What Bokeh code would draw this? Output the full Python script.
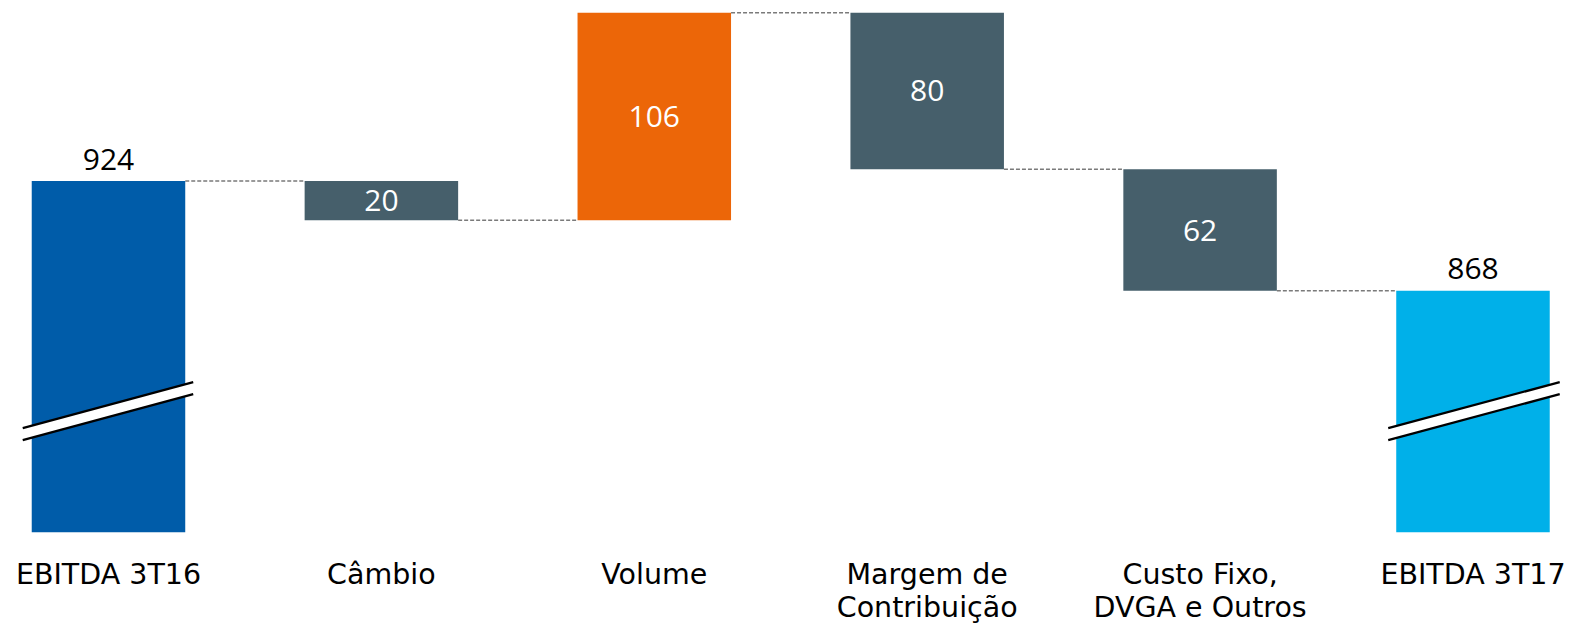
from bokeh.plotting import figure
from bokeh.models import Range1d
from bokeh.embed import file_html
from bokeh.resources import INLINE
from bokeh.core.properties import value

# ---- data ----
line1 = ["EBITDA 3T16", "Câmbio", "Volume", "Margem de", "Custo Fixo,", "EBITDA 3T17"]
line2 = ["", "", "", "Contribuição", "DVGA e Outros", ""]
steps = [924, -20, 106, -80, -62, 868]
is_total = [True, False, False, False, False, True]
value_labels = ["924", "20", "106", "80", "62", "868"]

# ---- styling / layout ----
colors = ["#005CA9", "#465F6B", "#EC6608", "#465F6B", "#465F6B", "#00B0E9"]
BASE = 744.8        # floor of the broken axis
W, H = 1573, 627
x_start, x_end = -0.3957, 5.3683
y_start, y_end = 696.13, 1016.19
BAR_W = 0.5625
ppx = W / (x_end - x_start)
ppy = H / (y_end - y_start)

xs = list(range(len(steps)))
tops, bottoms, levels = [], [], []
running = 0
for s, t in zip(steps, is_total):
    if t:
        bottoms.append(BASE)
        tops.append(s)
        running = s
    else:
        bottoms.append(min(running, running + s))
        tops.append(max(running, running + s))
        running += s
    levels.append(running)

p = figure(width=W, height=H, output_backend="svg", toolbar_location=None,
           x_range=Range1d(x_start, x_end), y_range=Range1d(y_start, y_end),
           min_border=0, outline_line_color=None)
p.axis.visible = False
p.grid.visible = False
p.background_fill_color = "white"
p.border_fill_color = "white"

# connectors
cx0 = [xs[i] + BAR_W / 2 for i in range(len(xs) - 1)]
cx1 = [xs[i + 1] - BAR_W / 2 for i in range(len(xs) - 1)]
cy = [levels[i] for i in range(len(xs) - 1)]
p.segment(x0=cx0, y0=cy, x1=cx1, y1=cy, line_color="#7A7A7A",
          line_width=1.5, line_dash="4 2")

# bars
p.vbar(x=xs, width=BAR_W, top=tops, bottom=bottoms, fill_color=colors,
       line_color=None)

# break marks on total bars
ext_l = {0: 9, 5: 8}
ext_r = {0: 8, 5: 10}
g = 6 / ppy
for i in xs:
    if not is_total[i]:
        continue
    xl = xs[i] - BAR_W / 2 - ext_l[i] / ppx
    xr = xs[i] + BAR_W / 2 + ext_r[i] / ppx
    yl = BASE + 98 / ppy
    yr = BASE + 144 / ppy
    p.patch([xl, xr, xr, xl], [yl + g, yr + g, yr - g, yl - g],
            fill_color="white", line_color=None)
    p.line([xl, xr], [yl + g, yr + g], line_color="black", line_width=2.2)
    p.line([xl, xr], [yl - g, yr - g], line_color="black", line_width=2.2)

# value labels
tx = [xs[i] for i in xs if is_total[i]]
ty = [tops[i] for i in xs if is_total[i]]
tt = [value_labels[i] for i in xs if is_total[i]]
p.text(x=tx, y=ty, text=tt, text_align="center", text_baseline="middle",
       y_offset=-22, text_color="black", text_font=value("Open Sans"),
       text_font_size="30px")
ix = [xs[i] for i in xs if not is_total[i]]
iy = [(tops[i] + bottoms[i]) / 2 for i in xs if not is_total[i]]
it = [value_labels[i] for i in xs if not is_total[i]]
p.text(x=ix, y=iy, text=it, text_align="center", text_baseline="middle",
       text_color="white", text_font=value("Open Sans"), text_font_size="30px")

# category labels
p.text(x=xs, y=[BASE] * len(xs), text=line1, text_align="center",
       text_baseline="middle", y_offset=42, text_color="black",
       text_font=value("DejaVu Sans"), text_font_size="28.5px")
p.text(x=xs, y=[BASE] * len(xs), text=line2, text_align="center",
       text_baseline="middle", y_offset=75, text_color="black",
       text_font=value("DejaVu Sans"), text_font_size="28.5px")

open("out.html", "w").write(file_html(p, INLINE))
